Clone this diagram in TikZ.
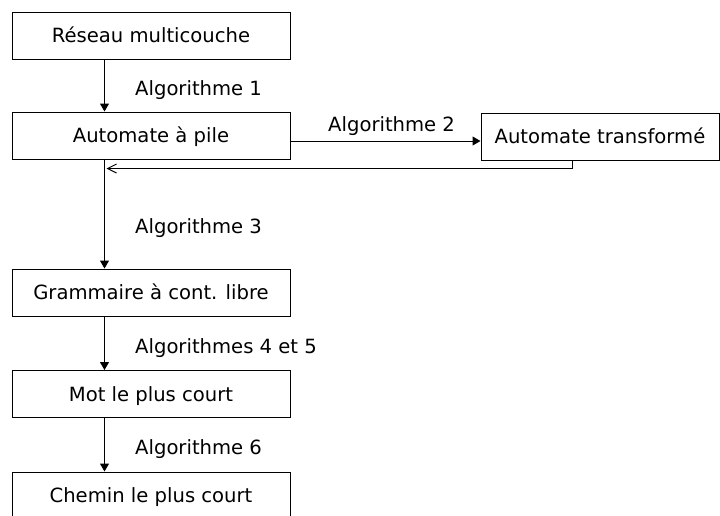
\documentclass[tikz,border=0pt]{standalone}
\usepackage{fontspec}
\setmainfont{DejaVu Sans}
\usetikzlibrary{arrows.meta, positioning}

\tikzset{
  etape/.style={draw, line width=1pt, minimum width=278, minimum height=47,
                inner sep=0pt, text height=14pt, text depth=0pt,
                font=\fontsize{19.6}{23}\selectfont},
  algo/.style={anchor=base west, inner sep=0pt, font=\fontsize{19.6}{23}\selectfont},
  fleche/.style={line width=1pt, -{Triangle[length=8pt, width=9pt]}},
  retour/.style={line width=1pt, -{Straight Barb[length=9pt, width=9pt]}}
}

\begin{document}
\begin{tikzpicture}[x=1pt, y=-1pt]
                    \useasboundingbox (0, 0) rectangle (720, 515);
                    \clip (0, 0) rectangle (720, 515);
                    % boites
                    \node[etape] (reseau) at (151, 35.5) {Réseau multicouche};
                    \node[etape] (pile) at (151, 135.5) {Automate à pile};
                    \node[etape, minimum width=238] (transf) at (600, 136.5) {Automate transformé};
                    \node[etape] (gramm) at (151, 292.5) {Grammaire à cont. libre};
                    \node[etape] (mot) at (151, 394) {Mot le plus court};
                    \node[etape] (chemin) at (151, 495.5) {Chemin le plus court};
                    % etiquettes
                    \node[algo] (algA) at (135, 95.5) {Algorithme 1};
                    \node[algo] (algB) at (328, 131) {Algorithme 2};
                    \node[algo] (algC) at (135, 233) {Algorithme 3};
                    \node[algo] (algD) at (135, 353) {Algorithmes 4 et 5};
                    \node[algo] (algE) at (135, 454) {Algorithme 6};
                    % fleches
                    \draw[fleche] ([xshift=93pt]reseau.south west) -- ([xshift=93pt]pile.north west);
                    \draw[fleche] ([yshift=-5.5pt]pile.east) -- ([yshift=-5.5pt]pile.east -| transf.west);
                    \draw[retour] ([xshift=92pt]transf.south west) |- ([xshift=95pt, yshift=-9pt]pile.south west);
                    \draw[fleche] ([xshift=93pt]pile.south west) -- ([xshift=93pt]gramm.north west);
                    \draw[fleche] ([xshift=93pt]gramm.south west) -- ([xshift=93pt]mot.north west);
                    \draw[fleche] ([xshift=93pt]mot.south west) -- ([xshift=93pt]chemin.north west);
                \end{tikzpicture}
\end{document}
